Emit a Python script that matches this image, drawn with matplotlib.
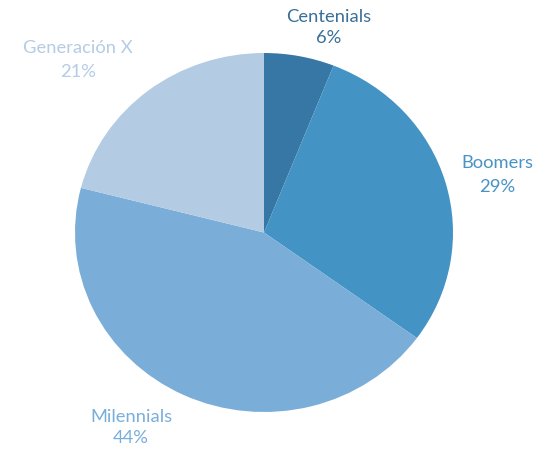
import matplotlib
matplotlib.use("Agg")
import matplotlib.pyplot as plt

categories = ["Centenials", "Boomers", "Milennials", "Generación X"]
values = [6, 29, 44, 21]
labels_pct = ["6%", "29%", "44%", "21%"]
slice_colors = ["#3677a5", "#4393c4", "#7aaed8", "#b3cce4"]
text_colors = ["#3a6f98", "#4893c4", "#78aedb", "#b5cce4"]

W, H = 538, 449
fig = plt.figure(figsize=(W / 100, H / 100), dpi=100)
ax = fig.add_axes([0, 0, 1, 1])

cx, cy = 264, 232.5     # pixel centre
rx, ry = 189, 179.5     # pixel radii
ax.pie(values, colors=slice_colors, startangle=90, counterclock=False,
       radius=1, center=(0, 0), wedgeprops=dict(linewidth=0))
ax.set_aspect("auto")
ax.set_xlim(-cx / rx, (W - cx) / rx)
ax.set_ylim(-(H - cy) / ry, cy / ry)
ax.axis("off")

label_pos = [(329, 17, 38), (497, 163, 187), (131, 417, 438), (78, 48, 72)]
for name, pct, col, (x, y1, y2) in zip(categories, labels_pct, text_colors, label_pos):
    fig.text(x / W, 1 - y1 / H, name, color=col, fontsize=13.2, family="Lato",
             ha="center", va="center")
    fig.text(x / W, 1 - y2 / H, pct, color=col, fontsize=13.2, family="Lato",
             ha="center", va="center")

fig.savefig("out.png", dpi=100)
